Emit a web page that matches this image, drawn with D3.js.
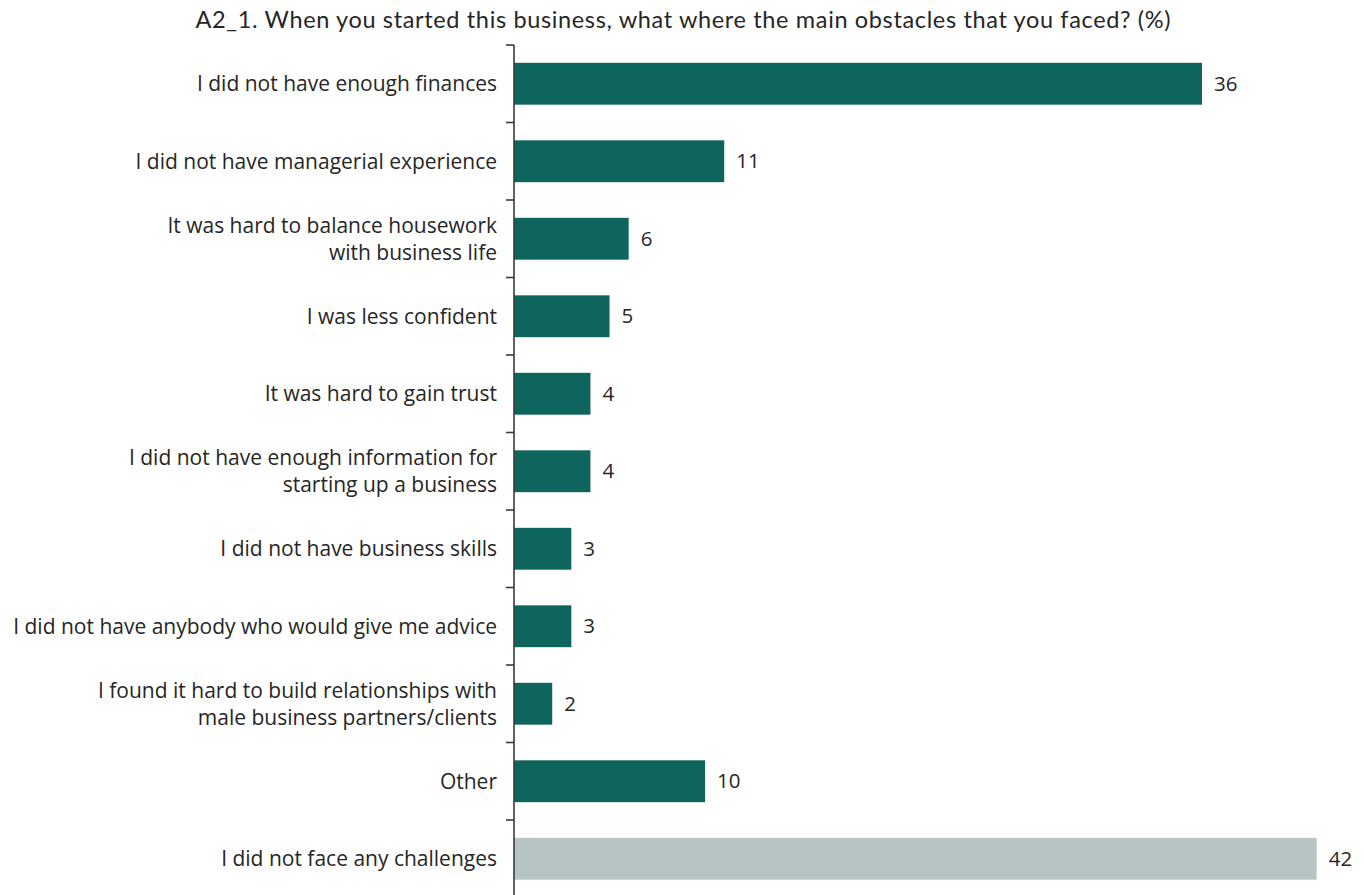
<!DOCTYPE html>
<html>
<head>
<meta charset="utf-8">
<script src="https://cdn.jsdelivr.net/npm/d3@7"></script>
<style>
  html, body { margin: 0; padding: 0; background: #fff; }
  svg { display: block; }
</style>
</head>
<body>
<svg id="chart" width="1364" height="895"></svg>
<script>
// Survey answers (percent of respondents)
const categories = [
  "I did not have enough finances",
  "I did not have managerial experience",
  "It was hard to balance housework\nwith business life",
  "I was less confident",
  "It was hard to gain trust",
  "I did not have enough information for\nstarting up a business",
  "I did not have business skills",
  "I did not have anybody who would give me advice",
  "I found it hard to build relationships with\nmale business partners/clients",
  "Other",
  "I did not face any challenges"
];
const values = [36, 11, 6, 5, 4, 4, 3, 3, 2, 10, 42];
const noChallenge = [false, false, false, false, false, false, false, false, false, false, true];

const title = "A2_1. When you started this business, what where the main obstacles that you faced? (%)";

const svg = d3.select("#chart");
const W = 1364, H = 895;
const margin = { top: 45, left: 514, right: 0, bottom: 0 };
const bandStep = 77.5;
const plotH = bandStep * categories.length;

const x = d3.scaleLinear().domain([0, 36]).range([margin.left, 1202]);
const y = d3.scaleBand()
  .domain(d3.range(categories.length))
  .range([margin.top, margin.top + plotH])
  .paddingInner(0.46)
  .paddingOuter(0.23);

const labelFont = "'Open Sans', sans-serif";
const fontSize = 21;

svg.append("text")
  .attr("x", 683)
  .attr("y", 28)
  .attr("text-anchor", "middle")
  .attr("font-family", "Lato, sans-serif")
  .attr("font-size", 23.5)
  .attr("textLength", 975)
  .attr("lengthAdjust", "spacing")
  .attr("fill", "#262626")
  .text(title);

// Bars
svg.append("g").selectAll("rect")
  .data(values)
  .join("rect")
  .attr("x", x(0))
  .attr("y", (d, i) => y(i))
  .attr("width", d => x(d) - x(0))
  .attr("height", y.bandwidth())
  .attr("fill", (d, i) => noChallenge[i] ? "#b6c4c4" : "#0e655e");

// Value labels
svg.append("g").selectAll("text")
  .data(values)
  .join("text")
  .attr("x", d => x(d) + 12)
  .attr("y", (d, i) => y(i) + y.bandwidth() / 2)
  .attr("dy", "0.35em")
  .attr("font-family", labelFont)
  .attr("font-size", 20.5)
  .attr("fill", "#262626")
  .text(d => d);

// Category axis: boundary ticks between bands
const axisG = svg.append("g").attr("stroke", "#3a3a3a").attr("stroke-width", 1.6);
axisG.append("line")
  .attr("x1", margin.left).attr("x2", margin.left)
  .attr("y1", margin.top).attr("y2", H);
const boundaries = d3.range(categories.length + 1).map(i => margin.top + i * y.step());
axisG.selectAll("line.tick")
  .data(boundaries)
  .join("line")
  .attr("class", "tick")
  .attr("x1", margin.left - 8).attr("x2", margin.left)
  .attr("y1", d => d).attr("y2", d => d);

// Category labels (may wrap onto two lines)
const lab = svg.append("g").selectAll("text")
  .data(categories)
  .join("text")
  .attr("text-anchor", "end")
  .attr("font-family", labelFont)
  .attr("font-size", fontSize)
  .attr("fill", "#262626")
  .attr("transform", (d, i) => `translate(${margin.left - 17},${y(i) + y.bandwidth() / 2})`);
lab.each(function(d) {
  const lines = d.split("\n");
  const t = d3.select(this);
  const lh = 27;
  lines.forEach((ln, k) => {
    t.append("tspan")
      .attr("x", 0)
      .attr("y", (k - (lines.length - 1) / 2) * lh)
      .attr("dy", "0.35em")
      .text(ln);
  });
});
</script>
</body>
</html>
